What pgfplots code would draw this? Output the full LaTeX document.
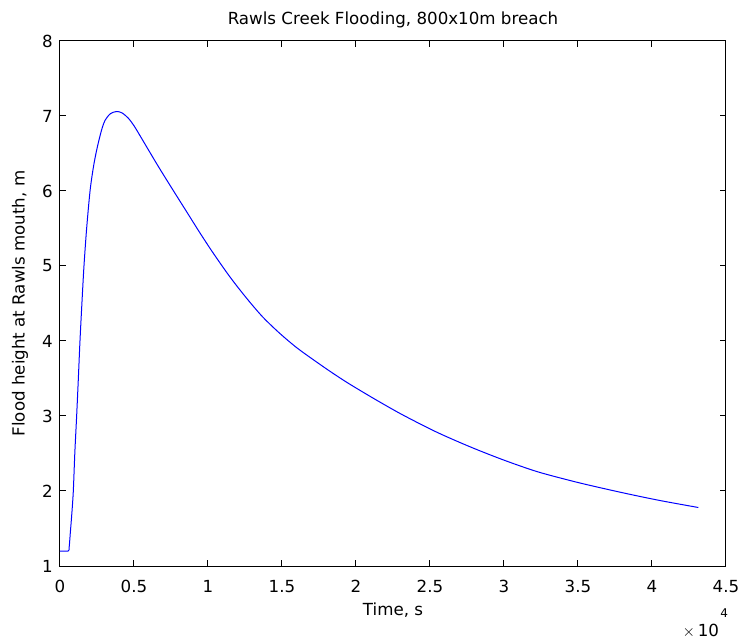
\documentclass[border=0pt]{standalone}
\usepackage{pgfplots}
\pgfplotsset{compat=1.18}
\usepackage{fontspec}
\setmainfont{DejaVu Sans}
\begin{document}
\begin{tikzpicture}
\path[use as bounding box] (-45pt,-57.75pt) rectangle (510pt,424.5pt);
\begin{axis}[
  at={(0,0)}, anchor=south west,
  scale only axis,
  width=499.5pt, height=393.75pt,
  xmin=0, xmax=45000, ymin=1, ymax=8,
  xtick={0,5000,10000,15000,20000,25000,30000,35000,40000,45000},
  xticklabels={0,0.5,1,1.5,2,2.5,3,3.5,4,4.5},
  ytick={1,2,3,4,5,6,7,8},
  scaled x ticks=false,
  tick align=inside,
  major tick length=4.5pt,
  axis line style={line width=0.75pt},
  every tick/.style={black, line width=0.75pt},
  /pgf/number format/assume math mode=true,
  tick label style={font=\fontsize{12.5}{14}\selectfont},
  label style={font=\fontsize{12.5}{14}\selectfont},
  title style={font=\fontsize{12.5}{14}\selectfont, at={([yshift=10pt]rel axis cs:0.5,1)}, anchor=center},
  title={Rawls Creek Flooding, 800x10m breach},
  xlabel={Time, s},
  ylabel={Flood height at Rawls mouth, m},
  xlabel style={at={([yshift=-33pt]rel axis cs:0.5,0)}, anchor=center},
  ylabel style={at={([xshift=-30pt]rel axis cs:0,0.5)}, anchor=center},
  xticklabel style={yshift=-7pt},
  yticklabel style={xshift=-2pt},
  clip=false,
]
\addplot[color={rgb,255:red,0;green,0;blue,255}, line width=0.75pt, smooth, tension=0.5] coordinates {
(0,1.2) (550,1.2) (620,1.25) (700,1.45) (800,1.7) (900,2.0) (1000,2.5)
(1125,3.0) (1240,3.5) (1350,4.0) (1480,4.5) (1620,5.0) (1800,5.5)
(2030,6.0) (2250,6.31) (2450,6.52) (2660,6.7) (2850,6.84) (3040,6.94)
(3400,7.03) (3830,7.06) (4200,7.04) (4620,6.97) (5000,6.87) (5400,6.74)
(6000,6.54) (6760,6.29) (7770,5.97) (8600,5.71) (9460,5.44) (10360,5.17)
(11500,4.85) (12610,4.57) (13700,4.32) (14860,4.10) (16000,3.91)
(17120,3.75) (18250,3.595) (19370,3.45) (20500,3.315) (21620,3.185)
(23200,3.01) (25450,2.785) (27700,2.59) (29950,2.415) (32210,2.26)
(34460,2.14) (36030,2.065) (38290,1.965) (40540,1.873) (43130,1.78)
};
\node[anchor=east, font=\fontsize{12.5}{14}\selectfont, inner sep=0pt] at ([xshift=-5pt,yshift=-49pt]rel axis cs:1,0) {$\times$\,10};
\node[anchor=west, font=\fontsize{9}{10}\selectfont, inner sep=0pt] at ([xshift=-4.5pt,yshift=-35pt]rel axis cs:1,0) {4};
\end{axis}
\end{tikzpicture}
\end{document}
